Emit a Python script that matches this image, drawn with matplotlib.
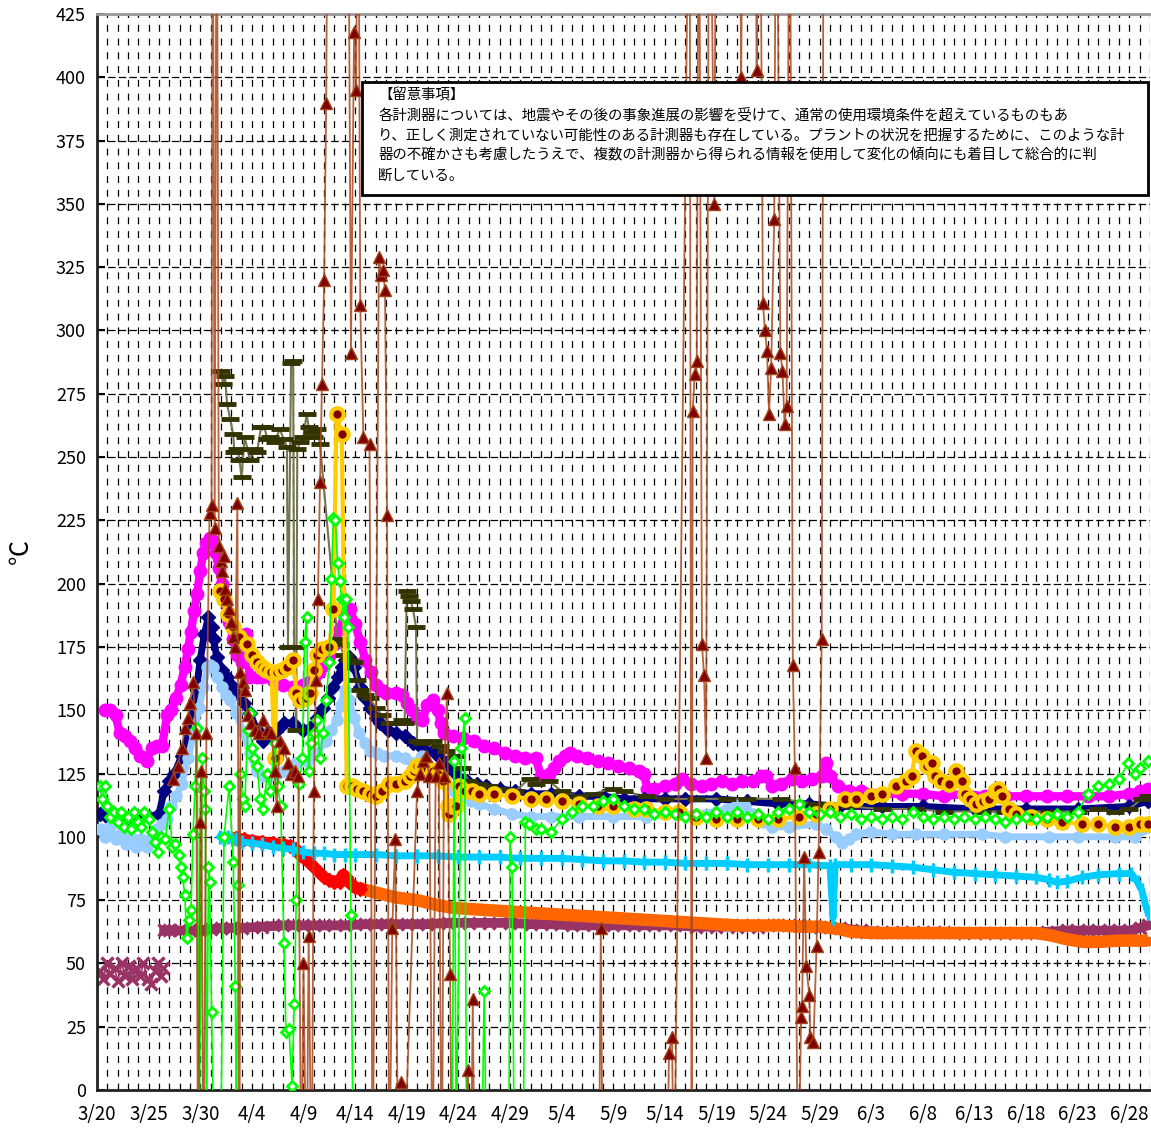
import numpy as np
import pandas as pd
import matplotlib
matplotlib.use("Agg")
from matplotlib import pyplot as plt
from matplotlib.ticker import MultipleLocator
from matplotlib.patches import Rectangle

plt.rcParams['font.family'] = ['Noto Sans CJK JP', 'DejaVu Sans']

# day 0 = 3/20, values in degC
# values beyond 425 or below 0 are off-scale readings (lines leave the plot)
start_date = "2011-03-20"
nan = np.nan

magenta = [(0.8,150),(1.3,150),(1.8,148),(2.2,141),(2.7,140),(3.2,138),(3.7,135),(4.2,132),(4.8,130),
           (5.3,135),(5.8,136),(6.3,136),(6.8,148),(7.2,150),(7.7,155),(8.1,160),(8.5,167),(8.8,174),
           (9.1,181),(9.4,189),(9.7,196),(10.0,205),(10.3,212),(10.6,216),(10.9,218),(11.2,217),
           (11.5,212),(11.8,206),(12.1,200),(12.4,193),(12.8,185),(13.2,178),(13.6,172),(14.0,169),
           (14.4,180),(14.8,163),(15.5,163),(16.0,163),(17.0,162),(18.0,160),(19.0,159),(20.0,160),
           (20.5,161),(21.0,163),(21.5,165),(22.0,168),(22.5,172),(23.0,176),(23.5,182),(24.0,188),
           (24.5,190),(25.0,184),(25.5,177),(26.0,170),(26.5,165),(27.0,160),(27.5,158),(28.0,157),
           (29.0,157),(29.5,156),(30.0,153),(30.5,150),(31.0,147),(31.5,146),(32.0,152),(32.5,154),
           (33.0,150),(33.3,145),(33.6,141),(34.5,140),(35.5,139),(36.5,138),(37.5,136),(38.5,135),
           (39.5,133),(40.5,132),(41.5,131),(42.5,131),(43.0,124),(43.4,nan),(43.8,125),(44.3,127),
           (44.8,130),(45.3,132),(45.8,133),(46.5,132),(47.5,131),(48.5,130),(49.5,129),(50.5,128),
           (51.5,127),(52.5,126),(53.0,125),(53.3,119),(54,119),(55,120),(56,121),(56.7,123),
           (57.5,121),(58.6,120),(59.5,121),(60.5,122),(61.5,121),(62.5,122),(63.5,122),(64.3,124),
           (64.8,124),(65.4,120),(66.3,121),(67.3,123),(68.3,122),(69.3,123),(70.2,124),(70.6,129),
           (71.0,124),(71.8,120),(72.8,118),(74,118),(76,117),(78,117),(80,117),(82,116),(84,117),
           (86,116),(88,116),(90,116),(92,116),(94,116),(96,116),(98,116),(100,117),(101,118),(101.8,119)]

navy = [(0.3,109),(1,108),(2,107),(3,107),(4,107),(5,108),(6,109),(6.5,118),(7.0,122),(7.5,125),
        (8.2,132),(8.9,141),(9.5,154),(10.0,170),(10.4,180),(10.8,187),(11.1,183),(11.3,178),
        (11.6,171),(12.1,166),(12.6,163),(13.0,160),(13.5,157),(14.2,153),(14.8,149),(15.5,142),
        (16.1,138),(16.7,141),(17.4,142),(18.1,145),(19.0,145),(20.0,142),(20.6,143),(21.3,147),
        (21.9,151),(22.4,155),(22.9,159),(23.3,163),(23.7,167),(24.0,170),(24.4,171),(24.9,167),
        (25.5,159),(26.0,155),(26.4,151),(27.0,147),(27.4,145),(28.2,142),(29.0,141),(29.8,140),
        (30.6,137),(31.5,135),(32.5,134),(33.2,131),(33.8,129),(34.5,126),(35.2,123),(35.8,122),
        (36.8,121),(37.7,120),(39,119),(40.5,118),(42,117),(44,117),(46.7,116),(49,116),(51,115),
        (53,115),(55,115),(57,115),(60,115),(63,114),(66,113),(69,113),(72,112),(76,112),(80,112),
        (85,111),(90,111),(95,111),(100,112),(101.8,114)]

light_blue = [(0.3,103),(0.8,100),(1.3,104),(1.8,99),(2.3,101),(2.8,97),(3.3,100),(3.8,96),(4.3,99),
              (4.8,96),(5.3,100),(5.8,103),(6.3,105),(6.8,107),(7.2,112),(7.7,116),(8.2,121),(8.8,131),
              (9.4,141),(9.9,151),(10.3,159),(10.7,167),(10.9,168),(11.2,167),(11.6,163),(12.1,159),
              (12.5,156),(12.9,154),(13.5,149),(14.2,141),(14.8,133),(15.5,126),(16.1,124),(16.7,124),
              (17.4,125),(18.1,126),(18.7,128),(19.3,129),(20.3,130),(21.3,133),(22.2,138),(22.7,142),
              (23.2,146),(23.6,152),(24.0,158),(24.4,154),(24.9,147),(25.4,141),(26.0,137),(26.4,134),
              (27.1,133),(27.8,132),(29.0,132),(29.8,131),(30.6,129),(31.5,132),(32.2,128),(32.9,124),
              (33.8,121),(34.6,118),(35.4,116),(36.2,114),(37.0,113),(38.5,111),(40.2,109),(42,108),
              (44,108),(46.7,108),(50,108),(53.2,108),(56.4,109),(58,109),(60,110),(61,111),(62,113),
              (62.8,112),(63.5,109),(64.5,106),(65.4,104),(67,104),(69.6,105),(70.6,103),(71.6,100),
              (72.2,97.5),(72.8,99),(73.5,101),(75,102),(77,101),(79.3,101),(82,101),(85.7,101),
              (88,100),(92.2,100),(95,100),(98.6,100),(100.5,100),(101.2,103),(101.8,104)]

olive = [(12.0,284),(12.2,279),(12.4,282),(12.6,271),(12.9,265),(13.2,259),(13.3,252),(13.6,253),
         (13.8,249),(14.0,242),(14.3,258),(14.8,249),(15.2,253),(15.5,252),(15.9,262),(16.2,262),
         (16.5,257),(16.8,258),(17.2,256),(17.7,261),(18.1,257),(18.4,254),(18.5,175),(18.8,287),
         (19.0,288),(19.1,175),(19.3,142),(19.4,253),(19.7,256),(20.0,258),(20.3,267),(20.5,262),
         (20.8,260),(21.0,258),(21.3,261),(21.6,255),(23.3,178),(23.5,176),(23.9,172),(24.4,170),
         (24.9,169),(25.2,162),(25.5,158),(26.0,156),(26.4,155),(27.0,151),(27.6,148),(28.3,145),
         (29.0,145),(29.5,146),(29.8,145),(30.0,197),(30.2,195),(30.4,193),(30.6,190),(30.9,183),
         (31.0,138),(31.5,137),(32.5,138),(33.2,136),(33.8,134),(34.8,132),(35.4,127),(36.0,122),
         (37.0,121),(38.0,120),(39.0,119),(40.5,118),(41.9,123),(42.5,121),(43.8,122),(45,118),
         (46.7,116),(48,117),(50,119),(51,118),(53.2,116),(55,115),(58,115),(61,115),(63,115),
         (66.3,115),(69.6,113),(72.8,112),(76,111),(79.3,111),(82,110),(85.7,110),(88,110),
         (92.2,110),(95,110),(97,111),(98.6,110),(100,111),(101.2,115),(101.8,116)]

gold = [(11.9,197),(12.3,194),(12.7,188),(13.2,183),(13.8,179),(14.5,176),(15.0,172),(15.5,169),
        (16.0,167),(16.4,166),(16.9,165),(17.2,131),(17.4,165),(17.9,166),(18.4,167),(19.0,170),
        (19.3,157),(19.7,154),(20.2,155),(20.6,157),(21.0,166),(21.3,172),(21.8,174),(22.5,175),
        (22.9,190),(23.2,267),(23.7,259),(24.2,120),(24.7,120),(25.2,119),(25.8,118),(26.4,117),
        (27.0,116),(27.6,118),(28.3,121),(29.0,121),(29.8,122),(30.3,124),(30.7,126),(31.0,128),
        (31.5,128),(32.0,127),(32.5,126),(33.0,125),(33.5,122),(34.0,112),(34.1,109),(34.4,112),
        (34.8,112),(35.1,120),(35.6,118),(36.3,118),(37.0,117),(38.5,117),(40.2,116),(42,115),
        (43.5,115),(45,114),(46.7,113),(48.5,112),(50,112),(52,111),(53.2,111),(55,110),(56.4,110),
        (58,108),(60,107),(62,107),(64,107),(66,107),(68,108),(69.6,109),(71,111),(72.5,115),
        (73.5,115),(75,116),(76,117),(77.4,120),(78.4,122),(78.9,124),(79.3,134),(79.9,132),
        (80.4,128),(80.9,129),(81.2,124),(81.8,122),(82.5,121),(83.2,126),(83.8,122),(84.1,117),
        (84.6,115),(85.1,113),(85.8,114),(86.4,115),(87.0,118),(87.3,119),(87.7,116),(88.3,111),
        (89.0,109),(90.5,108),(92,107),(93.5,106),(95.4,105),(97,105),(98.6,104),(100,104),
        (101,105),(101.8,105)]

green = [(0.3,120),(0.5,115),(0.8,120),(1.0,112),(1.3,108),(1.6,110),(2.0,106),(2.3,110),(2.6,104),
         (3.0,108),(3.3,103),(3.6,110),(4.0,106),(4.3,104),(4.6,110),(5.0,107),(5.3,102),(5.6,98),
         (5.9,94),(6.2,100),(6.6,99),(7.0,111),(7.3,96),(7.6,97),(7.9,93),(8.1,88),(8.3,84),(8.5,77),
         (8.7,60),(8.9,67),(9.1,71),(9.3,101),(9.5,120),(9.7,143),(9.9,-20),(10.2,131),(10.4,118),
         (10.5,111),(10.6,-20),(10.8,88),(10.9,82),(11.1,31),(11.3,-20),(12.0,-20),(12.3,100),
         (12.8,120),(13.2,90),(13.4,41),(13.5,-20),(13.7,81),(13.9,125),(14.1,115),(14.3,112),
         (14.6,142),(14.8,149),(15.0,135),(15.2,131),(15.5,128),(15.8,115),(16.1,111),(16.5,125),
         (16.8,118),(17.2,137),(17.5,120),(17.8,112),(18.1,58),(18.3,23),(18.6,24),(18.9,1.5),
         (19.1,34),(19.3,75),(19.6,121),(19.9,131),(20.1,177),(20.3,187),(20.5,126),(20.7,137),
         (21.0,141),(21.3,146),(21.6,131),(21.9,141),(22.2,154),(22.5,169),(22.7,202),(22.9,226),
         (23.1,225),(23.3,208),(23.5,201),(23.7,194),(23.9,187),(24.1,194),(24.3,183),(24.6,69),
         (24.8,-20),(25.0,nan),(34.4,-20),(34.6,130),(34.8,-20),(35.3,135),(35.6,147),(35.8,-20),
         (37.3,-20),(37.5,39),(37.7,-20),(39.9,-20),(40.0,100),(40.2,88),(40.4,-20),(41.3,-20),
         (41.5,106),(41.8,105),(42.5,103),(43,103),(44,102),(45,107),(46,110),(47,112),(48,112),
         (49,114),(50,115),(51,112),(52,111),(53,111),(54,109),(55,110),(56,109),(57,108),(58,109),
         (59,108),(60,110),(61,108),(62,110),(63,108),(64,109),(65,107),(66,110),(67,111),(68,113),
         (69,110),(70,109),(71,110),(72,108),(73,109),(74,107),(75,108),(76,107),(77,108),(78,107),
         (79,110),(80,108),(81,107),(82,108),(83,107),(84,108),(85,107),(86,108),(87,107),(88,106),
         (89,107),(90,108),(91,107),(92,108),(93,109),(94,108),(95,110),(96,117),(97,120),(98,121),
         (99,123),(99.9,129),(100.5,125),(101,127),(101.8,130)]

triangle = [(7.4,123),(7.8,128),(8.2,135),(8.5,143),(8.8,147),(9.0,153),(9.3,161),(9.6,141),(9.8,-50),
            (10.0,106),(10.1,126),(10.3,-50),(10.6,141),(10.9,228),(11.1,231),(11.2,520),(11.4,222),
            (11.6,520),(11.8,215),(12.0,209),(12.1,205),(12.3,211),(12.4,198),(12.6,194),(12.8,190),
            (13.0,185),(13.2,179),(13.4,175),(13.6,232),(13.8,-50),(13.9,165),(14.1,161),(14.3,158),
            (14.6,148),(14.9,145),(15.3,142),(15.7,141),(16.1,146),(16.5,142),(16.9,141),(17.2,126),
            (17.4,112),(17.7,138),(18.1,135),(18.5,129),(18.8,125),(19.2,126),(19.5,124),(19.8,-50),
            (20.0,50),(20.3,-50),(20.5,61),(20.8,-50),(21.0,118),(21.2,162),(21.4,194),(21.6,240),
            (21.8,279),(22.0,320),(22.2,390),(22.4,520),(24.3,520),(24.6,291),(24.9,418),(25.1,395),
            (25.3,520),(25.5,310),(25.8,258),(26.4,255),(26.7,-50),(27.3,329),(27.5,322),(27.7,324),
            (27.9,316),(28.1,227),(28.3,-50),(28.6,64),(28.9,99),(29.2,-50),(29.4,3),(29.6,-50),
            (31.0,118),(31.3,125),(31.6,130),(31.9,132),(32.2,124),(32.5,-50),(32.8,124),(33.1,129),
            (33.4,-50),(33.6,124),(33.9,157),(34.2,46),(34.4,-50),(35.8,-50),(35.9,8),(36.2,-50),
            (36.4,36),(36.6,-50),(48.6,-50),(48.8,64),(49.0,-50),(55.2,-50),(55.4,14.5),(55.7,21),
            (55.9,-50),(57.4,520),(57.6,-50),(57.7,268),(57.9,283),(58.1,288),(58.3,520),(58.6,176),
            (58.8,164),(59.0,131),(59.3,520),(59.8,350),(60.0,520),(62.2,520),(62.4,400),(62.6,520),
            (63.7,520),(63.9,403),(64.2,520),(64.5,311),(64.7,300),(64.9,292),(65.1,267),(65.3,285),
            (65.6,344),(65.8,520),(66.2,291),(66.4,284),(66.6,263),(66.8,270),(67.1,520),(67.4,168),
            (67.6,127),(67.9,-50),(68.2,29),(68.3,33),(68.5,92),(68.7,49),(69.0,37.5),(69.1,21),
            (69.4,19),(69.7,57),(69.9,94),(70.2,178),(70.4,520)]

red = [(13.5,99.5),(14.2,99),(15,98.5),(16,98),(17,97.5),(18,97),(18.7,96.5),(19.3,95),(19.7,93),
       (20.0,92),(20.5,90),(21.0,88),(21.5,86),(22.0,84),(22.5,83),(23.0,82),(23.5,82),(23.8,85),
       (24.1,84),(24.4,82),(24.7,81),(25.0,80),(25.5,79.5)]

orange = [(25.3,80),(26,79),(27,78),(28,77),(29,76),(30,75.5),(31,75),(32,74),(33,73),(34.4,72),
          (36,71.5),(38,71),(40,70.5),(42,70),(44,69.5),(46,69),(48,68.5),(50,68),(52,67.5),(54,67),
          (56,66.5),(58,66),(60,65.5),(62,65),(64,65),(66,65),(68,64.5),(70,64.5),(72,63.5),(73,62.5),
          (75,62),(78,62),(80,62),(83,62),(86,62),(89,62),(91,62),(92.5,61),(94,59.5),(95.5,58.5),
          (97,58.5),(99,59),(101,59),(101.8,59)]

purple = [(0.3,47),(0.6,44),(1.0,50),(1.3,46),(1.7,48),(2.0,43),(2.4,50),(2.7,45),(3.1,49),(3.4,44),
          (3.8,48),(4.2,45),(4.5,50),(4.9,44),(5.2,42),(5.6,47),(5.9,50),(6.2,45),(6.4,48),(6.5,63),
          (7,63),(8,63),(9,63),(10,63),(11,63.5),(12,64),(13,64),(14,64),(16,64.5),(18,65),(20,65),
          (22,65),(24,65),(26,65.5),(28,65.5),(30,65.5),(32,65.5),(34,66),(36,66),(38,66),(40,66),
          (42,65.5),(44,65.5),(46,65),(48,65),(50,65),(52,65),(54,65),(56,65),(58,64.5),(60,64.5),
          (62,64.5),(64,64.5),(66,65),(68,65),(70,64.5),(72,64),(74,63),(76,62.5),(78,62.5),(80,62.5),
          (82,62.5),(84,62),(86,62),(88,62),(90,62),(92,62.5),(94,63),(96,63),(98,63),(100,63),
          (101,64),(101.8,65)]

sky = [(11.9,100),(12.3,99),(12.7,100),(13.1,99),(13.5,99),(14,98),(15,97.5),(16,97),(17,96),(18,95.5),
       (19,95),(20,94),(21,93.5),(22,93.5),(23,93),(24,93),(25,93),(27,93),(29,92.5),(31,92.5),
       (33,92.5),(35,92),(37,92),(39,92),(41,91.5),(43,91.5),(45,91.5),(47,91),(49,90.5),(51,90.5),
       (53,90),(55,90),(57,89.5),(59,89.5),(61,89.5),(63,89),(65,89),(67,89),(69,89),(71,88.5),
       (71.3,68),(71.5,89),(73,89),(75,89),(77,88.5),(79,88),(81,87),(83,86),(85,85.5),(87,85),
       (89,84.5),(91,84),(92.2,83),(93,82),(94,82.5),(95.4,84),(97,85),(99,85.5),(100.2,85.5),
       (100.8,82),(101.2,79),(101.5,74),(101.8,70)]

note = ("【留意事項】\n"
        "各計測器については、地震やその後の事象進展の影響を受けて、通常の使用環境条件を超えているものもあ\n"
        "り、正しく測定されていない可能性のある計測器も存在している。プラントの状況を把握するために、このような計\n"
        "器の不確かさも考慮したうえで、複数の計測器から得られる情報を使用して変化の傾向にも着目して総合的に判\n"
        "断している。")


def xy(points):
    arr = np.array(points, dtype=float)
    return arr[:, 0], arr[:, 1]


fig = plt.figure(figsize=(11.51, 11.32), dpi=100)
ax = fig.add_axes([97 / 1151, 42 / 1132, 1053 / 1151, 1076 / 1132])

# bands first
d, v = xy(purple)
early = d < 6.45
ax.plot(d[early], v[early], color='#993366', lw=1.2, marker='x', ms=8, mew=2.5, zorder=2)
ax.plot(d[~early], v[~early], color='#993366', lw=7, marker='x', ms=8, mew=2.5, zorder=2)

d, v = xy(orange)
ax.plot(d, v, color='#FF6600', lw=9, marker='s', ms=6, zorder=3, solid_capstyle='butt')
d, v = xy(red)
ax.plot(d, v, color='#FF0000', lw=8, marker='D', ms=7, zorder=3)
d, v = xy(sky)
ax.plot(d, v, color='#00CCFF', lw=5, marker='|', ms=10, mew=2.5, zorder=3)

d, v = xy(magenta)
ax.plot(d, v, color='#FF00FF', lw=6, marker='o', ms=9, zorder=4)
d, v = xy(navy)
ax.plot(d, v, color='#000080', lw=5, marker='D', ms=7, zorder=5)
d, v = xy(light_blue)
ax.plot(d, v, color='#99CCFF', lw=5, marker='o', ms=8, zorder=6)
d, v = xy(olive)
ax.plot(d, v, color='#75754f', lw=1.5, zorder=7)
ax.plot(d, v, ls='none', marker='_', ms=13, mew=3.5, color='#333300', zorder=7)
d, v = xy(gold)
ax.plot(d, v, color='#FFCC00', lw=3, marker='o', ms=9, mfc='#800000', mec='#FFCC00', mew=3, zorder=8)
d, v = xy(green)
ax.plot(d, v, color='#00FF00', lw=1.2, marker='D', ms=5.5, mfc='white', mec='#00FF00', mew=2, zorder=9)
d, v = xy(triangle)
ax.plot(d, v, color='#A8471C', lw=1.3, alpha=0.85, zorder=10)
ax.plot(d, v, ls='none', marker='^', ms=9, mfc='#800000', mec='#A0441A', mew=1, zorder=10)

# axes, ticks, grid
ax.set_xlim(0, 102)
ax.set_ylim(0, 425)
tick_days = np.arange(0, 101, 5)
tick_dates = pd.date_range(start_date, periods=len(tick_days), freq='5D')
ax.set_xticks(tick_days)
ax.set_xticklabels([f"{t.month}/{t.day}" for t in tick_dates], fontsize=13.5)
ax.xaxis.set_minor_locator(MultipleLocator(1))
ax.yaxis.set_major_locator(MultipleLocator(25))
ax.tick_params(axis='y', labelsize=13, length=6, width=1.5, direction='in', pad=8)
ax.tick_params(axis='x', which='both', length=0, pad=10)
ax.grid(which='both', axis='x', color='black', lw=0.9, ls=(0, (5.5, 5.5)))
ax.grid(which='major', axis='y', color='black', lw=0.9, ls=(0, (6, 2.5)))
ax.set_axisbelow(True)

for side in ['left', 'bottom']:
    ax.spines[side].set_linewidth(2)
    ax.spines[side].set_color('#222222')
ax.spines['top'].set_linewidth(2)
ax.spines['top'].set_color('#999999')
ax.spines['right'].set_visible(False)

ax.set_ylabel('℃', fontsize=18, labelpad=16)

# note box
ax.add_patch(Rectangle((0.2517, 0.8318), 0.7463, 0.105, transform=ax.transAxes,
                       facecolor='white', edgecolor='black', lw=2, zorder=20))
ax.text(0.267, 0.931, note, transform=ax.transAxes, va='top', ha='left',
        fontsize=10.4, linespacing=1.52, zorder=21)

fig.savefig("out.png", dpi=100)
